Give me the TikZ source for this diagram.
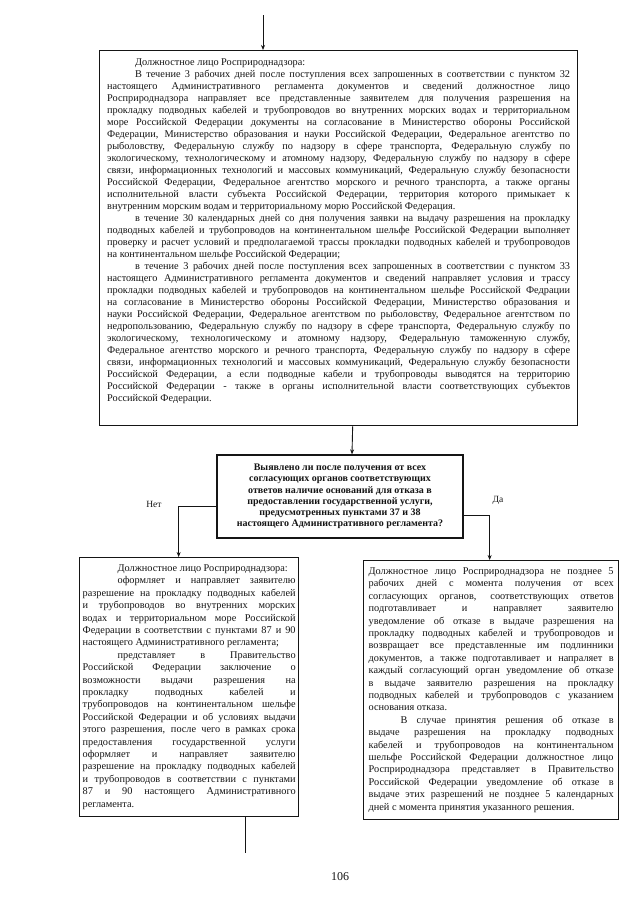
\documentclass[tikz,border=0pt]{standalone}
\usepackage{fontspec}
\setmainfont{Liberation Serif}
\usetikzlibrary{arrows.meta}
\definecolor{ScanInk}{HTML}{151515}
\definecolor{ScanPaper}{HTML}{FFFFFF}
\newcommand{\parstart}[1]{\hspace*{#1}\ignorespaces}
\tikzset{
  every node/.style={text=ScanInk},
  stepbox/.style={draw=ScanInk, line width=1.3pt, fill=ScanPaper, anchor=north west,
    inner ysep=7pt, align=justify, font=\fontsize{10.3}{12.4}\selectfont},
  decision/.style={draw=ScanInk, line width=1.3pt, fill=ScanPaper, align=center,
    minimum width=246pt, minimum height=83pt, font=\fontsize{10}{11.3}\selectfont\bfseries},
  flow/.style={-{Stealth[length=5pt,width=4pt]}, draw=ScanInk, line width=0.9pt},
  guide/.style={draw=ScanInk, line width=0.9pt},
  answer/.style={font=\fontsize{9.5}{11}\selectfont},
}

\begin{document}
\begin{tikzpicture}[x=1pt,y=1pt]
  \useasboundingbox (0,0) rectangle (640,-905);

  % Incoming arrow and first step
  \coordinate (entry) at (263,-15);
  \node[stepbox, inner xsep=7.5pt, text width=463pt, text height=8pt, text depth=353pt,
        font=\fontsize{10.3}{12}\selectfont] (agency) at (99,-50) {%
\parstart{28pt}Должностное лицо Росприроднадзора:\par
\parstart{28pt}В течение 3 рабочих дней после поступления всех запрошенных в соответствии с пунктом 32\linebreak
настоящего Административного регламента документов и сведений должностное лицо\linebreak
Росприроднадзора направляет все представленные заявителем для получения разрешения на\linebreak
прокладку подводных кабелей и трубопроводов во внутренних морских водах и территориальном\linebreak
море Российской Федерации документы на согласование в Министерство обороны Российской\linebreak
Федерации, Министерство образования и науки Российской Федерации, Федеральное агентство по\linebreak
рыболовству, Федеральную службу по надзору в сфере транспорта, Федеральную службу по\linebreak
экологическому, технологическому и атомному надзору, Федеральную службу по надзору в сфере\linebreak
связи, информационных технологий и массовых коммуникаций, Федеральную службу безопасности\linebreak
Российской Федерации, Федеральное агентство морского и речного транспорта, а также органы\linebreak
исполнительной власти субъекта Российской Федерации, территория которого примыкает к\linebreak
внутренним морским водам и территориальному морю Российской Федерация.\par
\parstart{28pt}в течение 30 календарных дней со дня получения заявки на выдачу разрешения на прокладку\linebreak
подводных кабелей и трубопроводов на континентальном шельфе Российской Федерации выполняет\linebreak
проверку и расчет условий и предполагаемой трассы прокладки подводных кабелей и трубопроводов\linebreak
на континентальном шельфе Российской Федерации;\par
\parstart{28pt}в течение 3 рабочих дней после поступления всех запрошенных в соответствии с пунктом 33\linebreak
настоящего Административного регламента документов и сведений направляет условия и трассу\linebreak
прокладки подводных кабелей и трубопроводов на континентальном шельфе Российской Федрации\linebreak
на согласование в Министерство обороны Российской Федерации, Министерство образования и\linebreak
науки Российской Федерации, Федеральное агентством по рыболовству, Федеральное агентством по\linebreak
недропользованию, Федеральную службу по надзору в сфере транспорта, Федеральную службу по\linebreak
экологическому, технологическому и атомному надзору, Федеральную таможенную службу,\linebreak
Федеральное агентство морского и речного транспорта, Федеральную службу по надзору в сфере\linebreak
связи, информационных технологий и массовых коммуникаций, Федеральную службу безопасности\linebreak
Российской Федерации, а если подводные кабели и трубопроводы выводятся на территорию\linebreak
Российской Федерации - также в органы исполнительной власти соответствующих субъектов\linebreak
Российской Федерации.};

  % Question
  \node[decision] (query) at (340,-496.5) {%
    Выявлено ли после получения от всех\\
    согласующих органов соответствующих\\
    ответов наличие оснований для отказа в\\
    предоставлении государственной услуги,\\
    предусмотренных пунктами 37 и 38\\
    настоящего Административного регламента?};

  % Answer "no": permit is issued
  \node[stepbox, inner xsep=3pt, text width=213pt] (grantbox) at (79,-557) {%
\parstart{35pt}Должностное лицо Росприроднадзора:\par
\parstart{35pt}оформляет и направляет заявителю\linebreak
разрешение на прокладку подводных кабелей\linebreak
и трубопроводов во внутренних морских\linebreak
водах и территориальном море Российской\linebreak
Федерации в соответствии с пунктами 87 и 90\linebreak
настоящего Административного регламента;\par
\parstart{35pt}представляет в Правительство\linebreak
Российской Федерации заключение о\linebreak
возможности выдачи разрешения на\linebreak
прокладку подводных кабелей и\linebreak
трубопроводов на континентальном шельфе\linebreak
Российской Федерации и об условиях выдачи\linebreak
этого разрешения, после чего в рамках срока\linebreak
предоставления государственной услуги\linebreak
оформляет и направляет заявителю\linebreak
разрешение на прокладку подводных кабелей\linebreak
и трубопроводов в соответствии с пунктами\linebreak
87 и 90 настоящего Административного\linebreak
регламента.};

  % Answer "yes": refusal
  \node[stepbox, inner xsep=5pt, text width=245pt] (refusebox) at (363,-560) {%
Должностное лицо Росприроднадзора не позднее 5\linebreak
рабочих дней с момента получения от всех\linebreak
согласующих органов, соответствующих ответов\linebreak
подготавливает и направляет заявителю\linebreak
уведомление об отказе в выдаче разрешения на\linebreak
прокладку подводных кабелей и трубопроводов и\linebreak
возвращает все представленные им подлинники\linebreak
документов, а также подготавливает и напраляет в\linebreak
каждый согласующий орган уведомление об отказе\linebreak
в выдаче заявителю разрешения на прокладку\linebreak
подводных кабелей и трубопроводов с указанием\linebreak
основания отказа.\par
\parstart{32pt}В случае принятия решения об отказе в\linebreak
выдаче разрешения на прокладку подводных\linebreak
кабелей и трубопроводов на континентальном\linebreak
шельфе Российской Федерации должностное лицо\linebreak
Росприроднадзора представляет в Правительство\linebreak
Российской Федерации уведомление об отказе в\linebreak
выдаче этих разрешений не позднее 5 календарных\linebreak
дней с момента принятия указанного решения.};

  % Branch labels
  \node[answer] (no) at (154,-504) {Нет};
  \node[answer] (yes) at (498,-500) {Да};

  % Connectors
  \draw[flow] (entry) -- (entry |- agency.north);
  \draw[flow] ([xshift=14pt]agency.south) -- ([xshift=12pt]query.north);
  \draw[flow] ([yshift=-9.5pt]query.west) -| ([xshift=-10.5pt]grantbox.north);
  \draw[flow] ([yshift=-18.5pt]query.east) -| ([xshift=-1.5pt]refusebox.north);
  \coordinate (onward) at (245,-853);
  \draw[guide] (onward |- grantbox.south) -- (onward);

  % Page number
  \node[font=\fontsize{12}{14}\selectfont] (pageno) at (340,-877) {106};
\end{tikzpicture}
\end{document}
